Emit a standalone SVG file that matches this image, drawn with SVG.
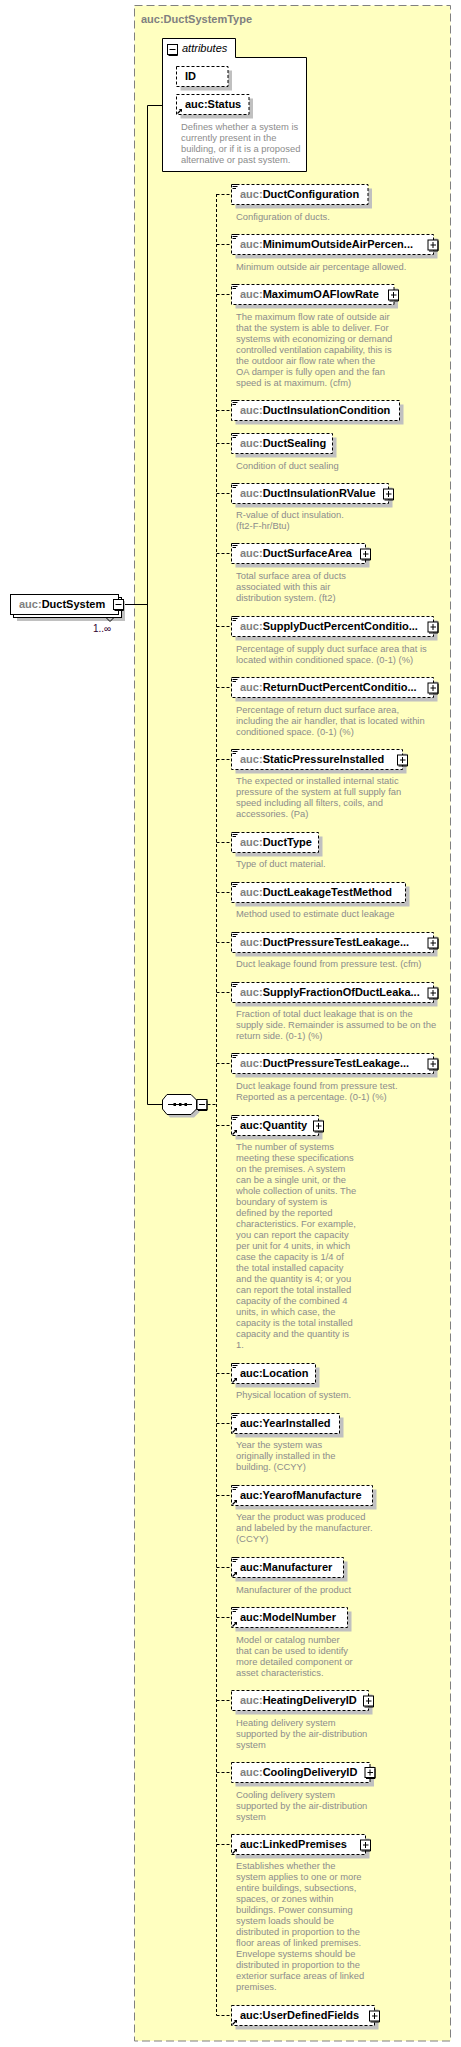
<svg xmlns="http://www.w3.org/2000/svg" xmlns:xlink="http://www.w3.org/1999/xlink" width="461" height="2047" viewBox="0 0 461 2047">
<style>
.lbl{font-family:"Liberation Sans",Arial,sans-serif;font-size:11px;font-weight:bold;fill:#000}
.pre{fill:#808080}
.desc{font-family:"Liberation Sans",Arial,sans-serif;font-size:9.4px;fill:#8c8c8c}
.box{fill:#fff;stroke:#000;stroke-width:1;stroke-dasharray:3,2}
.sh{fill:#c0c0c0}
.conn{fill:none;stroke:#000;stroke-width:1}
.dconn{fill:none;stroke:#000;stroke-width:1;stroke-dasharray:3,2}
</style>
<defs>
<g id="plus"><rect x="0.5" y="0.5" width="10" height="10" fill="#fff" stroke="#000"/><path d="M10.5,1.5V11.5H1.5" fill="none" stroke="#000"/><path d="M3,5.5H8.5M5.5,2.5V8.5" stroke="#000" fill="none"/></g>
<g id="minus"><rect x="0.5" y="0.5" width="10" height="10" fill="#fff" stroke="#000"/><path d="M10.5,1.5V11.5H1.5" fill="none" stroke="#000"/><path d="M2.5,5.5H8.5" stroke="#000" fill="none"/></g>
<g id="doc"><path d="M1.5,0.5H6.5M1.5,2.5H6.5M1.5,4.5H5" stroke="#000" fill="none"/></g>
<g id="ref"><path d="M0.5,5.5L4,2" stroke="#000" stroke-width="1.3" fill="none"/><path d="M1.8,1H5V4.2Z" fill="#000"/></g>
</defs>

<g id="type-box">
<rect x="134.5" y="5.5" width="316" height="2035.5" fill="#ffffc0" stroke="#808080" stroke-dasharray="8,4"/>
<text x="141" y="22.5" class="lbl" style="fill:#808080">auc:DuctSystemType</text>
</g>

<g id="connectors">
<path class="conn" d="M124,604.5H147.5M147.5,105.5V1104.5M147.5,105.5H162.5M147.5,1104.5H162.5"/>
<path class="dconn" d="M207.5,1104.5H216.5M216.5,194V2015.5"/>
<path class="dconn" d="M216.5,194.5H231.5M216.5,244.5H231.5M216.5,294.5H231.5M216.5,410.5H231.5M216.5,443.5H231.5M216.5,493.5H231.5M216.5,553.5H231.5M216.5,626.5H231.5M216.5,687.5H231.5M216.5,759.5H231.5M216.5,842.5H231.5M216.5,892.5H231.5M216.5,942.5H231.5M216.5,992.5H231.5M216.5,1063.5H231.5M216.5,1125.5H231.5M216.5,1373.5H231.5M216.5,1423.5H231.5M216.5,1495.5H231.5M216.5,1567.5H231.5M216.5,1617.5H231.5M216.5,1700.5H231.5M216.5,1772.5H231.5M216.5,1844.5H231.5M216.5,2015.5H231.5"/>
</g>

<g id="DuctSystem">
<rect x="17" y="601" width="108" height="20" class="sh"/>
<rect x="13.5" y="597.5" width="108" height="20" fill="#fff" stroke="#000"/>
<rect x="10.5" y="594.5" width="108" height="20" fill="#fff" stroke="#000"/>
<text x="19" y="608" class="lbl"><tspan class="pre">auc:</tspan>DuctSystem</text>
<use xlink:href="#minus" x="113" y="599"/>
<path d="M106,617.5L110,621.5L114,617.5" fill="none" stroke="#000"/>
<text x="93" y="632" style="font-family:'Liberation Sans',Arial,sans-serif;font-size:10px;fill:#300030">1..∞</text>
</g>

<g id="attributes">
<path d="M162.5,38.5H235.5V57.5H306.5V171.5H162.5Z" fill="#fff" stroke="#000"/>
<use xlink:href="#minus" x="167" y="44"/>
<text x="182" y="52" style="font-family:'Liberation Sans',Arial,sans-serif;font-size:11px;font-style:italic;fill:#000">attributes</text>
<rect x="180.5" y="70.5" width="51.5" height="20" class="sh"/>
<rect x="176.5" y="66.5" width="51.5" height="20" class="box"/>
<text x="185" y="80" class="lbl">ID</text>
<rect x="180.5" y="98.5" width="72.5" height="20" class="sh"/>
<rect x="176.5" y="94.5" width="72.5" height="20" class="box"/>
<text x="185" y="108" class="lbl">auc:Status</text>
<use xlink:href="#ref" x="177" y="108"/>
<text class="desc"><tspan x="181" y="129.5">Defines whether a system is</tspan><tspan x="181" y="140.5">currently present in the</tspan><tspan x="181" y="151.5">building, or if it is a proposed</tspan><tspan x="181" y="162.5">alternative or past system.</tspan></text>
</g>

<g id="sequence">
<path d="M170,1097.5H194L199.5,1103V1112L194,1117.5H170L165.5,1112V1103Z" class="sh"/>
<path d="M167,1094.5H191L196.5,1100V1109L191,1114.5H167L162.5,1109V1100Z" fill="#fff" stroke="#000"/>
<path d="M168,1104.5H192" stroke="#000"/>
<rect x="173.5" y="1103" width="2.5" height="3" fill="#000"/>
<rect x="179" y="1103" width="2.5" height="3" fill="#000"/>
<rect x="184.5" y="1103" width="2.5" height="3" fill="#000"/>
<use xlink:href="#minus" x="196.5" y="1099"/>
</g>

<g id="DuctConfiguration">
<rect x="235.5" y="188.5" width="136.5" height="20" class="sh"/>
<rect x="231.5" y="184.5" width="136.5" height="20" class="box"/>
<use xlink:href="#doc" x="231" y="184"/>
<text x="240" y="198" class="lbl"><tspan class="pre">auc:</tspan>DuctConfiguration</text>
<text class="desc"><tspan x="236" y="219.5">Configuration of ducts.</tspan></text>
</g>

<g id="MinimumOutsideAirPercentage">
<rect x="235.5" y="238.5" width="202" height="20" class="sh"/>
<rect x="231.5" y="234.5" width="202" height="20" class="box"/>
<use xlink:href="#doc" x="231" y="234"/>
<text x="240" y="248" class="lbl"><tspan class="pre">auc:</tspan>MinimumOutsideAirPercen...</text>
<use xlink:href="#plus" x="427.5" y="239.5"/>
<text class="desc"><tspan x="236" y="270">Minimum outside air percentage allowed.</tspan></text>
</g>

<g id="MaximumOAFlowRate">
<rect x="235.5" y="288.5" width="162.5" height="20" class="sh"/>
<rect x="231.5" y="284.5" width="162.5" height="20" class="box"/>
<use xlink:href="#doc" x="231" y="284"/>
<text x="240" y="298" class="lbl"><tspan class="pre">auc:</tspan>MaximumOAFlowRate</text>
<use xlink:href="#plus" x="388" y="289.5"/>
<text class="desc"><tspan x="236" y="319.7">The maximum flow rate of outside air</tspan><tspan x="236" y="330.7">that the system is able to deliver. For</tspan><tspan x="236" y="341.7">systems with economizing or demand</tspan><tspan x="236" y="352.7">controlled ventilation capability, this is</tspan><tspan x="236" y="363.7">the outdoor air flow rate when the</tspan><tspan x="236" y="374.7">OA damper is fully open and the fan</tspan><tspan x="236" y="385.7">speed is at maximum. (cfm)</tspan></text>
</g>

<g id="DuctInsulationCondition">
<rect x="235.5" y="404.5" width="168" height="20" class="sh"/>
<rect x="231.5" y="400.5" width="168" height="20" class="box"/>
<use xlink:href="#doc" x="231" y="400"/>
<text x="240" y="414" class="lbl"><tspan class="pre">auc:</tspan>DuctInsulationCondition</text>
</g>

<g id="DuctSealing">
<rect x="235.5" y="437.5" width="101" height="20" class="sh"/>
<rect x="231.5" y="433.5" width="101" height="20" class="box"/>
<use xlink:href="#doc" x="231" y="433"/>
<text x="240" y="447" class="lbl"><tspan class="pre">auc:</tspan>DuctSealing</text>
<text class="desc"><tspan x="236" y="468.7">Condition of duct sealing</tspan></text>
</g>

<g id="DuctInsulationRValue">
<rect x="235.5" y="487.5" width="157" height="20" class="sh"/>
<rect x="231.5" y="483.5" width="157" height="20" class="box"/>
<use xlink:href="#doc" x="231" y="483"/>
<text x="240" y="497" class="lbl"><tspan class="pre">auc:</tspan>DuctInsulationRValue</text>
<use xlink:href="#plus" x="383" y="488.5"/>
<text class="desc"><tspan x="236" y="518.3">R-value of duct insulation.</tspan><tspan x="236" y="529.3">(ft2-F-hr/Btu)</tspan></text>
</g>

<g id="DuctSurfaceArea">
<rect x="235.5" y="547.5" width="134" height="20" class="sh"/>
<rect x="231.5" y="543.5" width="134" height="20" class="box"/>
<use xlink:href="#doc" x="231" y="543"/>
<text x="240" y="557.3" class="lbl"><tspan class="pre">auc:</tspan>DuctSurfaceArea</text>
<use xlink:href="#plus" x="360" y="548.5"/>
<text class="desc"><tspan x="236" y="579.3">Total surface area of ducts</tspan><tspan x="236" y="590.3">associated with this air</tspan><tspan x="236" y="601.3">distribution system. (ft2)</tspan></text>
</g>

<g id="SupplyDuctPercentConditionedSpace">
<rect x="235.5" y="620.5" width="202" height="20" class="sh"/>
<rect x="231.5" y="616.5" width="202" height="20" class="box"/>
<use xlink:href="#doc" x="231" y="616"/>
<text x="240" y="630" class="lbl"><tspan class="pre">auc:</tspan>SupplyDuctPercentConditio...</text>
<use xlink:href="#plus" x="427.5" y="621.5"/>
<text class="desc"><tspan x="236" y="651.7">Percentage of supply duct surface area that is</tspan><tspan x="236" y="662.7">located within conditioned space. (0-1) (%)</tspan></text>
</g>

<g id="ReturnDuctPercentConditionedSpace">
<rect x="235.5" y="681.5" width="202" height="20" class="sh"/>
<rect x="231.5" y="677.5" width="202" height="20" class="box"/>
<use xlink:href="#doc" x="231" y="677"/>
<text x="240" y="691" class="lbl"><tspan class="pre">auc:</tspan>ReturnDuctPercentConditio...</text>
<use xlink:href="#plus" x="427.5" y="682.5"/>
<text class="desc"><tspan x="236" y="712.7">Percentage of return duct surface area,</tspan><tspan x="236" y="723.7">including the air handler, that is located within</tspan><tspan x="236" y="734.7">conditioned space. (0-1) (%)</tspan></text>
</g>

<g id="StaticPressureInstalled">
<rect x="235.5" y="753.5" width="171" height="20" class="sh"/>
<rect x="231.5" y="749.5" width="171" height="20" class="box"/>
<use xlink:href="#doc" x="231" y="749"/>
<text x="240" y="763" class="lbl"><tspan class="pre">auc:</tspan>StaticPressureInstalled</text>
<use xlink:href="#plus" x="397" y="754.5"/>
<text class="desc"><tspan x="236" y="784.3">The expected or installed internal static</tspan><tspan x="236" y="795.3">pressure of the system at full supply fan</tspan><tspan x="236" y="806.3">speed including all filters, coils, and</tspan><tspan x="236" y="817.3">accessories. (Pa)</tspan></text>
</g>

<g id="DuctType">
<rect x="235.5" y="836.5" width="87" height="20" class="sh"/>
<rect x="231.5" y="832.5" width="87" height="20" class="box"/>
<use xlink:href="#doc" x="231" y="832"/>
<text x="240" y="846" class="lbl"><tspan class="pre">auc:</tspan>DuctType</text>
<text class="desc"><tspan x="236" y="867.3">Type of duct material.</tspan></text>
</g>

<g id="DuctLeakageTestMethod">
<rect x="235.5" y="886.5" width="174" height="20" class="sh"/>
<rect x="231.5" y="882.5" width="174" height="20" class="box"/>
<use xlink:href="#doc" x="231" y="882"/>
<text x="240" y="896" class="lbl"><tspan class="pre">auc:</tspan>DuctLeakageTestMethod</text>
<text class="desc"><tspan x="236" y="917.3">Method used to estimate duct leakage</tspan></text>
</g>

<g id="DuctPressureTestLeakageRate">
<rect x="235.5" y="936.5" width="202" height="20" class="sh"/>
<rect x="231.5" y="932.5" width="202" height="20" class="box"/>
<use xlink:href="#doc" x="231" y="932"/>
<text x="240" y="946" class="lbl"><tspan class="pre">auc:</tspan>DuctPressureTestLeakage...</text>
<use xlink:href="#plus" x="427.5" y="937.5"/>
<text class="desc"><tspan x="236" y="967.3">Duct leakage found from pressure test. (cfm)</tspan></text>
</g>

<g id="SupplyFractionOfDuctLeakage">
<rect x="235.5" y="986.5" width="202" height="20" class="sh"/>
<rect x="231.5" y="982.5" width="202" height="20" class="box"/>
<use xlink:href="#doc" x="231" y="982"/>
<text x="240" y="996" class="lbl"><tspan class="pre">auc:</tspan>SupplyFractionOfDuctLeaka...</text>
<use xlink:href="#plus" x="427.5" y="987.5"/>
<text class="desc"><tspan x="236" y="1017.3">Fraction of total duct leakage that is on the</tspan><tspan x="236" y="1028.3">supply side. Remainder is assumed to be on the</tspan><tspan x="236" y="1039.3">return side. (0-1) (%)</tspan></text>
</g>

<g id="DuctPressureTestLeakagePercentage">
<rect x="235.5" y="1057.5" width="202" height="20" class="sh"/>
<rect x="231.5" y="1053.5" width="202" height="20" class="box"/>
<use xlink:href="#doc" x="231" y="1053"/>
<text x="240" y="1067.3" class="lbl"><tspan class="pre">auc:</tspan>DuctPressureTestLeakage...</text>
<use xlink:href="#plus" x="427.5" y="1058.5"/>
<text class="desc"><tspan x="236" y="1089.3">Duct leakage found from pressure test.</tspan><tspan x="236" y="1100.3">Reported as a percentage. (0-1) (%)</tspan></text>
</g>

<g id="Quantity">
<rect x="235.5" y="1119.5" width="87" height="20" class="sh"/>
<rect x="231.5" y="1115.5" width="87" height="20" class="box"/>
<use xlink:href="#doc" x="231" y="1115"/>
<use xlink:href="#ref" x="232" y="1129"/>
<text x="240" y="1129" class="lbl">auc:Quantity</text>
<use xlink:href="#plus" x="313" y="1120.5"/>
<text class="desc"><tspan x="236" y="1150.3">The number of systems</tspan><tspan x="236" y="1161.3">meeting these specifications</tspan><tspan x="236" y="1172.3">on the premises. A system</tspan><tspan x="236" y="1183.3">can be a single unit, or the</tspan><tspan x="236" y="1194.3">whole collection of units. The</tspan><tspan x="236" y="1205.3">boundary of system is</tspan><tspan x="236" y="1216.3">defined by the reported</tspan><tspan x="236" y="1227.3">characteristics. For example,</tspan><tspan x="236" y="1238.3">you can report the capacity</tspan><tspan x="236" y="1249.3">per unit for 4 units, in which</tspan><tspan x="236" y="1260.3">case the capacity is 1/4 of</tspan><tspan x="236" y="1271.3">the total installed capacity</tspan><tspan x="236" y="1282.3">and the quantity is 4; or you</tspan><tspan x="236" y="1293.3">can report the total installed</tspan><tspan x="236" y="1304.3">capacity of the combined 4</tspan><tspan x="236" y="1315.3">units, in which case, the</tspan><tspan x="236" y="1326.3">capacity is the total installed</tspan><tspan x="236" y="1337.3">capacity and the quantity is</tspan><tspan x="236" y="1348.3">1.</tspan></text>
</g>

<g id="Location">
<rect x="235.5" y="1367.5" width="84" height="20" class="sh"/>
<rect x="231.5" y="1363.5" width="84" height="20" class="box"/>
<use xlink:href="#doc" x="231" y="1363"/>
<use xlink:href="#ref" x="232" y="1377"/>
<text x="240" y="1377" class="lbl">auc:Location</text>
<text class="desc"><tspan x="236" y="1398.3">Physical location of system.</tspan></text>
</g>

<g id="YearInstalled">
<rect x="235.5" y="1417.5" width="108" height="20" class="sh"/>
<rect x="231.5" y="1413.5" width="108" height="20" class="box"/>
<use xlink:href="#doc" x="231" y="1413"/>
<use xlink:href="#ref" x="232" y="1427"/>
<text x="240" y="1426.5" class="lbl">auc:YearInstalled</text>
<text class="desc"><tspan x="236" y="1448.3">Year the system was</tspan><tspan x="236" y="1459.3">originally installed in the</tspan><tspan x="236" y="1470.3">building. (CCYY)</tspan></text>
</g>

<g id="YearofManufacture">
<rect x="235.5" y="1489.5" width="141" height="20" class="sh"/>
<rect x="231.5" y="1485.5" width="141" height="20" class="box"/>
<use xlink:href="#doc" x="231" y="1485"/>
<use xlink:href="#ref" x="232" y="1499"/>
<text x="240" y="1499" class="lbl">auc:YearofManufacture</text>
<text class="desc"><tspan x="236" y="1520.3">Year the product was produced</tspan><tspan x="236" y="1531.3">and labeled by the manufacturer.</tspan><tspan x="236" y="1542.3">(CCYY)</tspan></text>
</g>

<g id="Manufacturer">
<rect x="235.5" y="1561.5" width="112" height="20" class="sh"/>
<rect x="231.5" y="1557.5" width="112" height="20" class="box"/>
<use xlink:href="#doc" x="231" y="1557"/>
<use xlink:href="#ref" x="232" y="1571"/>
<text x="240" y="1571" class="lbl">auc:Manufacturer</text>
<text class="desc"><tspan x="236" y="1592.7">Manufacturer of the product</tspan></text>
</g>

<g id="ModelNumber">
<rect x="235.5" y="1611.5" width="116" height="20" class="sh"/>
<rect x="231.5" y="1607.5" width="116" height="20" class="box"/>
<use xlink:href="#doc" x="231" y="1607"/>
<use xlink:href="#ref" x="232" y="1621"/>
<text x="240" y="1621" class="lbl">auc:ModelNumber</text>
<text class="desc"><tspan x="236" y="1642.7">Model or catalog number</tspan><tspan x="236" y="1653.7">that can be used to identify</tspan><tspan x="236" y="1664.7">more detailed component or</tspan><tspan x="236" y="1675.7">asset characteristics.</tspan></text>
</g>

<g id="HeatingDeliveryID">
<rect x="235.5" y="1694.5" width="137" height="20" class="sh"/>
<rect x="231.5" y="1690.5" width="137" height="20" class="box"/>
<text x="240" y="1704" class="lbl"><tspan class="pre">auc:</tspan>HeatingDeliveryID</text>
<use xlink:href="#plus" x="363" y="1695.5"/>
<text class="desc"><tspan x="236" y="1725.7">Heating delivery system</tspan><tspan x="236" y="1736.7">supported by the air-distribution</tspan><tspan x="236" y="1747.7">system</tspan></text>
</g>

<g id="CoolingDeliveryID">
<rect x="235.5" y="1766.5" width="138.5" height="20" class="sh"/>
<rect x="231.5" y="1762.5" width="138.5" height="20" class="box"/>
<text x="240" y="1775.5" class="lbl"><tspan class="pre">auc:</tspan>CoolingDeliveryID</text>
<use xlink:href="#plus" x="364.5" y="1767"/>
<text class="desc"><tspan x="236" y="1797.7">Cooling delivery system</tspan><tspan x="236" y="1808.7">supported by the air-distribution</tspan><tspan x="236" y="1819.7">system</tspan></text>
</g>

<g id="LinkedPremises">
<rect x="235.5" y="1838.5" width="134" height="20" class="sh"/>
<rect x="231.5" y="1834.5" width="134" height="20" class="box"/>
<use xlink:href="#ref" x="232" y="1848"/>
<text x="240" y="1848" class="lbl">auc:LinkedPremises</text>
<use xlink:href="#plus" x="360" y="1839.5"/>
<text class="desc"><tspan x="236" y="1869.3">Establishes whether the</tspan><tspan x="236" y="1880.3">system applies to one or more</tspan><tspan x="236" y="1891.3">entire buildings, subsections,</tspan><tspan x="236" y="1902.3">spaces, or zones within</tspan><tspan x="236" y="1913.3">buildings. Power consuming</tspan><tspan x="236" y="1924.3">system loads should be</tspan><tspan x="236" y="1935.3">distributed in proportion to the</tspan><tspan x="236" y="1946.3">floor areas of linked premises.</tspan><tspan x="236" y="1957.3">Envelope systems should be</tspan><tspan x="236" y="1968.3">distributed in proportion to the</tspan><tspan x="236" y="1979.3">exterior surface areas of linked</tspan><tspan x="236" y="1990.3">premises.</tspan></text>
</g>

<g id="UserDefinedFields">
<rect x="235.5" y="2009.5" width="143" height="20" class="sh"/>
<rect x="231.5" y="2005.5" width="143" height="20" class="box"/>
<use xlink:href="#ref" x="232" y="2019"/>
<text x="240" y="2019" class="lbl">auc:UserDefinedFields</text>
<use xlink:href="#plus" x="369" y="2010.5"/>
</g>
</svg>
